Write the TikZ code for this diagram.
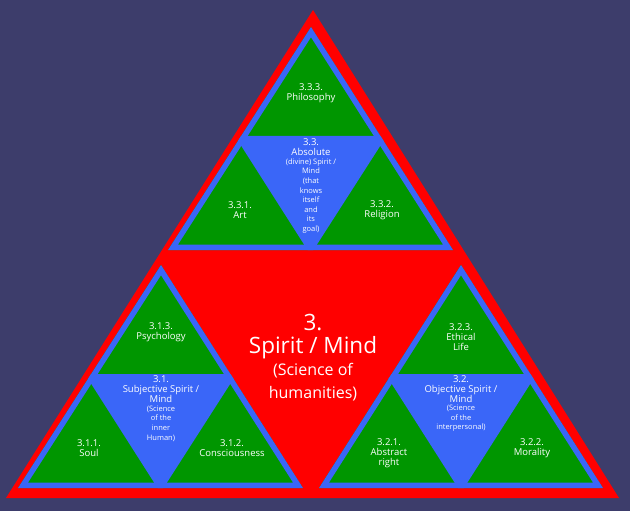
\documentclass[tikz,border=0pt]{standalone}
\usepackage{fontspec}
\setmainfont{Open Sans}
\usetikzlibrary{calc}
\definecolor{bgblue}{HTML}{3D3D6B}
\definecolor{hred}{HTML}{FF0000}
\definecolor{hgreen}{HTML}{009600}
\definecolor{hblue}{HTML}{3A66F8}

\begin{document}
\begin{tikzpicture}[x=1pt, y=-1pt,
    lbl/.style={text=white, align=center, font=\fontsize{9.5}{10}\selectfont},
    note/.style={text=white, align=center, font=\fontsize{7.5}{9.6}\selectfont},
    big/.style={text=white, align=center, font=\fontsize{22.5}{23}\selectfont},
    mid/.style={text=white, align=center, font=\fontsize{16}{23}\selectfont}
  ]
  % Background
  \useasboundingbox (0,0) rectangle (630,511);
  \fill[bgblue] (0,0) rectangle (630,511);

  % Outer triangle
  \fill[hred] (313,10) -- (6,498) -- (619,498) -- cycle;

  % Sub triangles
  \foreach \n/\ax/\ay/\lx/\rx/\by in {top/311/27/168/453/250,
                                      left/161/265/18/303/488,
                                      right/461/265/319/603/488}{
    \coordinate (\n-a) at (\ax,\ay);
    \coordinate (\n-l) at (\lx,\by);
    \coordinate (\n-r) at (\rx,\by);
    \begin{scope}
      \clip (\n-a) -- (\n-l) -- (\n-r) -- cycle;
      \fill[hgreen] (\n-a) -- (\n-l) -- (\n-r) -- cycle;
      \filldraw[hblue, line width=5pt] ($(\n-a)!0.5!(\n-l)$) -- ($(\n-l)!0.5!(\n-r)$)
        -- ($(\n-a)!0.5!(\n-r)$) -- cycle;
      \draw[hblue, line width=11pt] (\n-a) -- (\n-l) -- (\n-r) -- cycle;
    \end{scope}
  }

  % Absolute spirit
  \node[lbl]  (phil)    at (311,93)    {3.3.3.\\Philosophy};
  \node[lbl]  (abshead) at (311,147.5) {3.3.\\Absolute};
  \node[note] (absnote) at (311,196)   {(divine) Spirit /\\Mind\\(that\\knows\\itself\\and\\its\\goal)};
  \node[lbl]  (art)     at (240,210.5) {3.3.1.\\Art};
  \node[lbl]  (rel)     at (382,210.5) {3.3.2.\\Religion};

  % Subjective spirit
  \node[lbl]  (psy)     at (161,332)   {3.1.3.\\Psychology};
  \node[lbl]  (subhead) at (161,389.5) {3.1.\\Subjective Spirit /\\Mind};
  \node[note] (subnote) at (161,423.5) {(Science\\of the\\inner\\Human)};
  \node[lbl]  (soul)    at (89,448)    {3.1.1.\\Soul};
  \node[lbl]  (cons)    at (232,448)   {3.1.2.\\Consciousness};

  % Objective spirit
  \node[lbl]  (eth)     at (461,337)   {3.2.3.\\Ethical\\Life};
  \node[lbl]  (objhead) at (461,389.5) {3.2.\\Objective Spirit /\\Mind};
  \node[note] (objnote) at (461,418.5) {(Science\\of the\\interpersonal)};
  \node[lbl]  (abst)    at (389,453)   {3.2.1.\\Abstract\\right};
  \node[lbl]  (mor)     at (532,448)   {3.2.2.\\Morality};

  % Centre
  \node[big]  (spirit)  at (313,336.5) {3.\\Spirit / Mind};
  \node[mid]  (human)   at (313,382)   {(Science of\\humanities)};
\end{tikzpicture}
\end{document}
